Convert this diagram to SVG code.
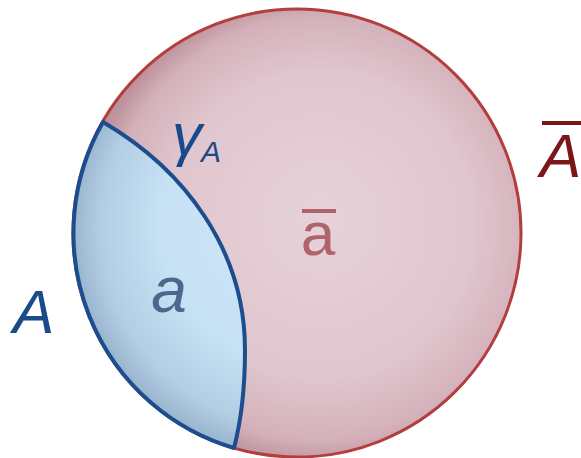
<svg xmlns="http://www.w3.org/2000/svg" width="581" height="458" viewBox="0 0 581 458">
  <defs>
    <radialGradient id="pinkFill" gradientUnits="userSpaceOnUse" cx="320" cy="230" r="235" fx="320" fy="215">
      <stop offset="0" stop-color="#e7d2d9"/>
      <stop offset="0.65" stop-color="#e0c6ce"/>
      <stop offset="0.9" stop-color="#d4b1ba"/>
      <stop offset="1" stop-color="#bf939d"/>
    </radialGradient>
    <radialGradient id="blueFill" gradientUnits="userSpaceOnUse" cx="300" cy="230" r="235" fx="300" fy="215">
      <stop offset="0" stop-color="#d0e8f9"/>
      <stop offset="0.6" stop-color="#c6e0f4"/>
      <stop offset="0.85" stop-color="#b3cde4"/>
      <stop offset="1" stop-color="#92aec8"/>
    </radialGradient>
    <style>
      .lbl { font-family: "Liberation Sans", Arial, sans-serif; }
      .blue { fill: #1b4a8a; }
      .it { font-style: italic; }
    </style>
  </defs>
  <rect width="581" height="458" fill="#ffffff"/>
  <g id="sphere">
    <circle cx="297" cy="233" r="224" fill="url(#pinkFill)" stroke="#b23e3e" stroke-width="3"/>
  </g>
  <g id="region-a">
    <path d="M103,122 A224,224 0 0,0 234,448 C240,425 245,390 245,350 C245,250 185,170 103,122 Z" fill="url(#blueFill)" stroke="#1c4d8e" stroke-width="4" stroke-linejoin="round"/>
  </g>
  <g id="labels">
    <text class="lbl blue it" x="172" y="155" font-size="60">γ</text>
    <text class="lbl blue it" x="201" y="162" font-size="30">A</text>
    <text class="lbl blue it" x="13" y="333" font-size="62">A</text>
    <text class="lbl it" x="169" y="312" font-size="64" fill="#4b688c" text-anchor="middle">a</text>
    <text class="lbl" x="318" y="255" font-size="62" fill="#b0636b" text-anchor="middle">a</text>
    <rect x="302" y="209" width="34" height="4" fill="#b0636b"/>
    <text class="lbl it" x="540" y="177" font-size="62" fill="#7a1519">A</text>
    <rect x="542" y="121" width="39" height="4" fill="#7a1519"/>
  </g>
</svg>
